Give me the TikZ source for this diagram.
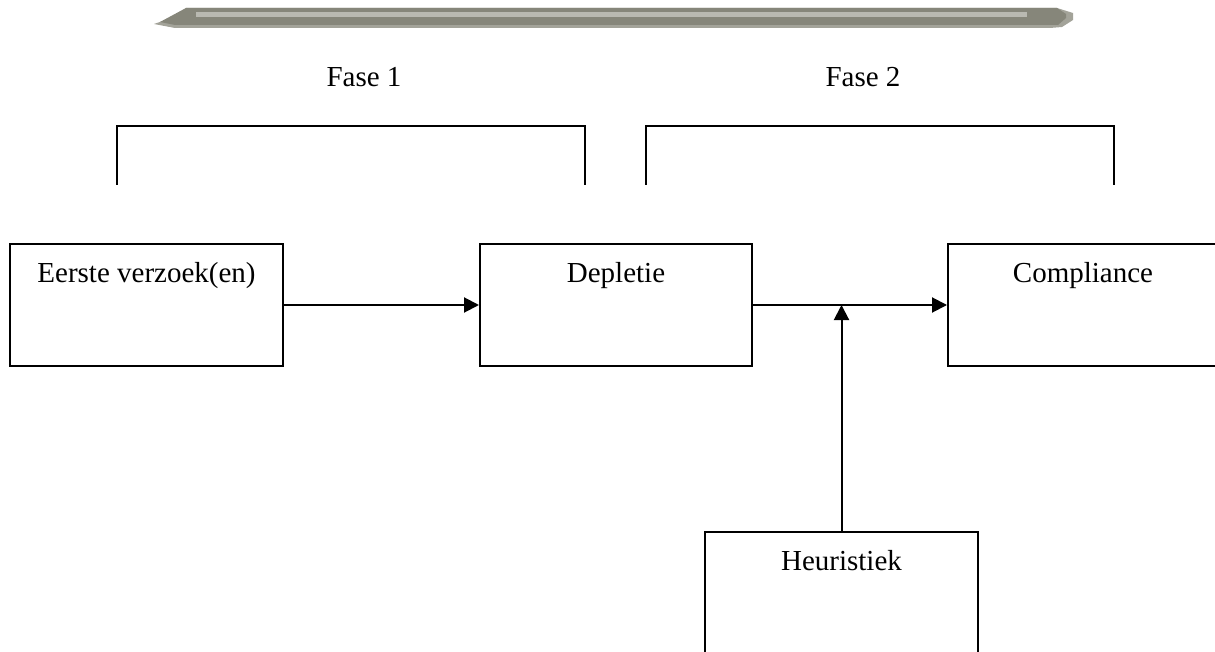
\documentclass[tikz,border=0pt]{standalone}
\usepackage{fontspec}
\setmainfont{Liberation Serif}
\usetikzlibrary{arrows.meta}
\definecolor{bardark}{HTML}{86867A}
\definecolor{barlight}{HTML}{B9B9B1}
\definecolor{barmid}{HTML}{A3A399}
\tikzset{
  box/.style={draw=black, line width=2pt, rectangle, minimum width=#1, minimum height=121pt, inner sep=0pt},
  txt/.style={font=\fontsize{29}{34}\selectfont},
  conn/.style={line width=2pt, -{Triangle[length=15pt,width=15pt]}},
  brack/.style={line width=2pt, draw=black},
}
\begin{document}
\begin{tikzpicture}[x=1pt,y=-1pt]
\clip (0,0) rectangle (1215,652);
\fill[white] (0,0) rectangle (1215,652);
% top decorative bar
\fill[barmid] (154,24) -- (175,17) -- (186,8) -- (1057,8) -- (1073,13) -- (1073,20) -- (1062,27) -- (1050,28) -- (175,28) -- cycle;
\fill[bardark] (160,22) -- (186,8) -- (1057,8) -- (1066,14) -- (1066,18) -- (1058,25) -- (175,25) -- cycle;
\fill[barlight] (196,12) rectangle (1027,17);
% phase labels
\node[txt, anchor=base] (f1) at (364,87) {Fase 1};
\node[txt, anchor=base] (f2) at (863,87) {Fase 2};
% brackets
\draw[brack] (117,185) -- (117,126) -- (585,126) -- (585,185);
\draw[brack] (646,185) -- (646,126) -- (1114,126) -- (1114,185);
% boxes
\node[box=273pt, label={[txt, anchor=base, yshift=-39pt, label distance=0pt]north:Eerste verzoek(en)}] (eerste) at (146.5,305) {};
\node[box=272pt, label={[txt, anchor=base, yshift=-39pt, label distance=0pt]north:Depletie}] (depl) at (616,305) {};
\node[box=270pt, label={[txt, anchor=base, yshift=-39pt, label distance=0pt]north:Compliance}] (comp) at (1083,305) {};
\node[box=273pt, minimum height=160pt, label={[txt, anchor=base, yshift=-39pt, label distance=0pt]north:Heuristiek}] (heur) at (841.5,612) {};
% connectors
\coordinate (join) at (heur.north |- depl.east);
\draw[conn] (eerste.east) -- (depl.west);
\draw[conn] (depl.east) -- (comp.west);
\draw[conn] (heur.north) -- (join);
\end{tikzpicture}
\end{document}
